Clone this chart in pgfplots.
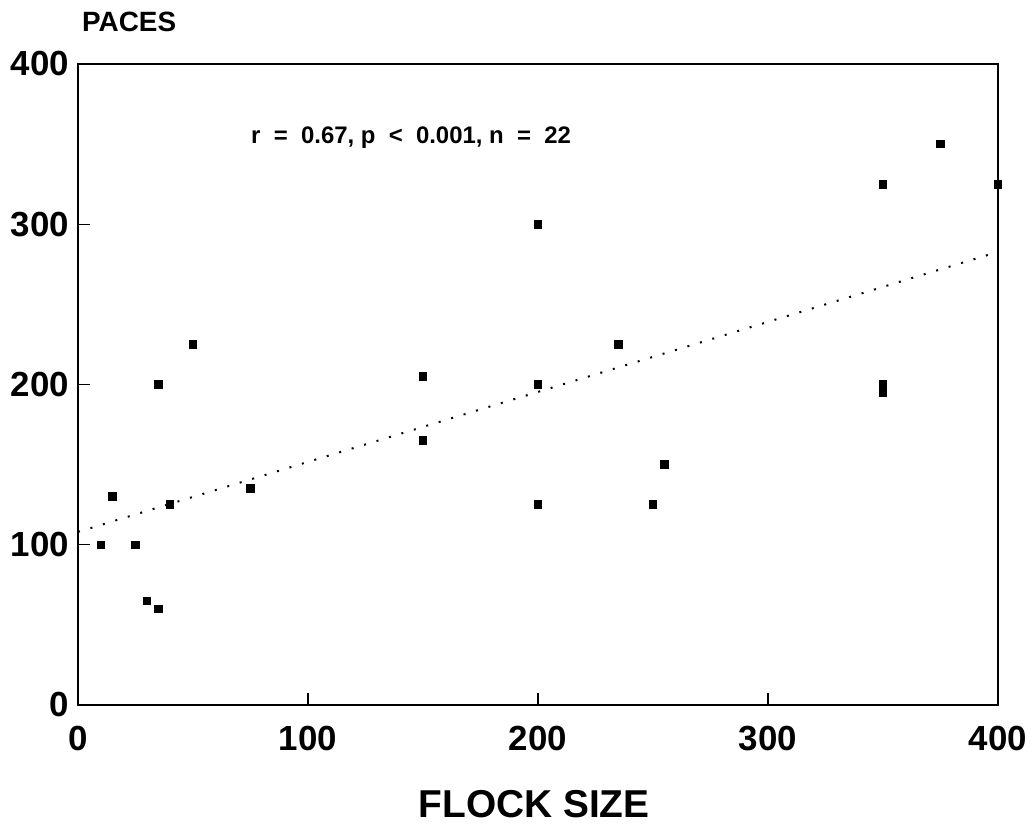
\documentclass[border=0pt]{standalone}
\usepackage{fontspec}
\setmainfont{Liberation Sans}
\usepackage{pgfplots}
\pgfplotsset{compat=1.18}

\begin{document}
\begin{tikzpicture}
\begin{axis}[
    scale only axis,
    width=460bp, height=320.5bp,
    xmin=0, xmax=400, ymin=0, ymax=400,
    xtick={0,100,200,300,400},
    ytick={0,100,200,300,400},
    tick pos=left,
    tick align=inside,
    major tick length=6bp,
    axis line style={line width=0.7pt},
    tick style={line width=0.7pt, black},
    /pgf/number format/assume math mode=true,
    tick label style={font=\fontsize{17.5}{20}\selectfont\bfseries},
    xticklabel style={yshift=-7bp},
    yticklabel style={xshift=-1bp},
    clip=false,
]
% observations (22 flocks)
\addplot[only marks, mark=square*, mark size=1.9bp, black] coordinates {
    (10,100) (15,130) (25,100) (30,65) (35,60) (35,200) (40,125) (50,225)
    (75,135) (150,205) (150,165) (200,300) (200,200) (200,125) (235,225)
    (250,125) (255,150) (350,325) (375,350) (400,325) (350,200) (350,195)
};
% fitted line
\addplot[black, line width=1bp, dash pattern=on 1bp off 5.5bp] coordinates {
    (0,108) (396,281)
};

\node[font=\fontsize{12}{14}\selectfont\bfseries] at (axis cs:144.8,353.8)
    {r\ \ =\ \ 0.67,\ p\ \ <\ \ 0.001,\ n\ \ =\ \ 22};
\node[anchor=west, inner sep=0pt, font=\fontsize{14}{16}\selectfont\bfseries] at (rel axis cs:0.004,1.0655) {PACES};
\node[font=\fontsize{19.5}{22}\selectfont\bfseries] at (rel axis cs:0.4957,-0.1544) {FLOCK SIZE};

\coordinate (bl) at (rel axis cs:-0.0848,-0.1903);
\coordinate (tr) at (rel axis cs:1.038,1.0998);
\end{axis}
\pgfresetboundingbox
\path[use as bounding box] (bl) rectangle (tr);
\end{tikzpicture}
\end{document}
